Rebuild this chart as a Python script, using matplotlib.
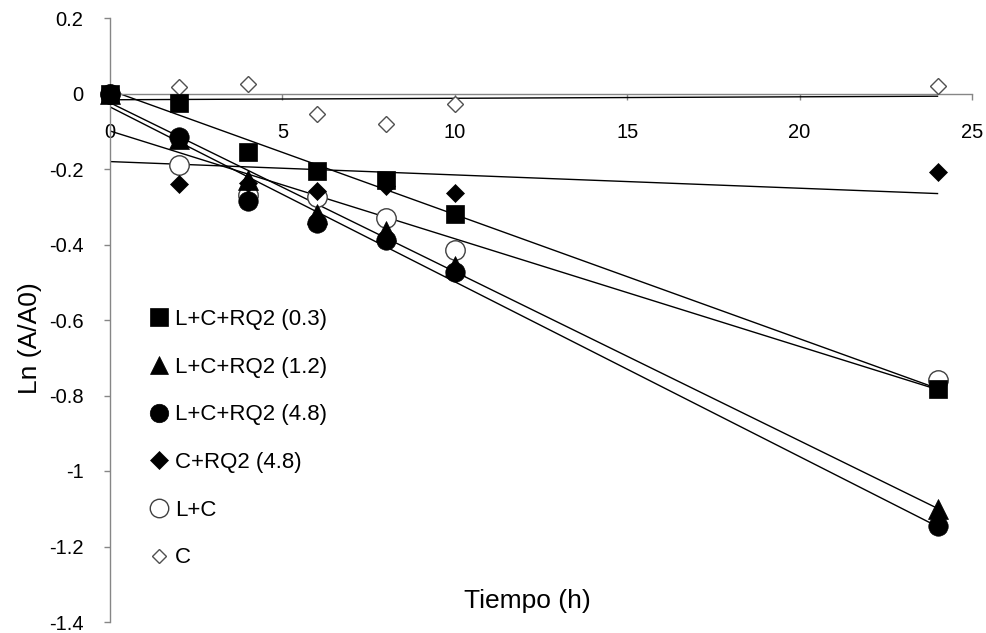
import numpy as np
import matplotlib.pyplot as plt

plt.rcParams['font.family'] = ['Liberation Sans', 'DejaVu Sans']

tiempo = [0, 2, 4, 6, 8, 10, 24]

rq2_03 = [0, -0.024, -0.156, -0.205, -0.23, -0.318, -0.784]
rq2_12 = [0, -0.12, -0.228, -0.318, -0.365, -0.458, -1.10]
rq2_48 = [0, -0.114, -0.286, -0.342, -0.387, -0.474, -1.147]
c_rq2_48 = [0, -0.241, -0.238, -0.258, -0.246, -0.263, -0.207]
l_c = [0, -0.19, -0.27, -0.274, -0.329, -0.415, -0.758]
c_sola = [0, 0.018, 0.026, -0.053, -0.08, -0.027, 0.021]

nombres = ['L+C+RQ2 (0.3)', 'L+C+RQ2 (1.2)', 'L+C+RQ2 (4.8)',
           'C+RQ2 (4.8)', 'L+C', 'C']
series = [rq2_03, rq2_12, rq2_48, c_rq2_48, l_c, c_sola]

# estilo de cada serie: marcador, tamaño, relleno, borde
estilos = [
    dict(marker='s', ms=13.5, mfc='black', mec='black', mew=0.5),
    dict(marker='^', ms=14, mfc='black', mec='black', mew=0.5),
    dict(marker='o', ms=14, mfc='black', mec='black', mew=0.5),
    dict(marker='D', ms=9.3, mfc='black', mec='black', mew=0.5),
    dict(marker='o', ms=14, mfc='white', mec='#404040', mew=1.0),
    dict(marker='D', ms=7.8, mfc='white', mec='#505050', mew=1.0),
]

gris = '#868686'

fig = plt.figure(figsize=(9.87, 6.33), dpi=100)
ax = fig.add_axes([110 / 987, 11 / 633, 862 / 987, 604 / 633])

x = np.array(tiempo, dtype=float)
xl = np.array([0, 24])
for ys in series:
    m, b = np.polyfit(x, np.array(ys), 1)
    ax.plot(xl, m * xl + b, color='black', lw=1.0, zorder=2)

# la primera serie queda encima, como en el original
for i, (ys, nombre, st) in enumerate(zip(series, nombres, estilos)):
    ax.plot(tiempo, ys, ls='none', label=nombre, zorder=10 - i,
            clip_on=False, **st)

ax.set_xlim(0, 25)
ax.set_ylim(-1.4, 0.2)

ax.spines['top'].set_visible(False)
ax.spines['right'].set_visible(False)
ax.spines['bottom'].set_position(('data', 0))
for s in ('left', 'bottom'):
    ax.spines[s].set_color(gris)
    ax.spines[s].set_linewidth(1.0)

yt = np.arange(-1.4, 0.21, 0.2)
ax.set_yticks(yt)
ax.set_yticklabels(['%g' % round(v, 1) if abs(v) > 1e-9 else '0' for v in yt])
ax.set_xticks([0, 5, 10, 15, 20, 25])
ax.set_xticklabels(['0', '5', '10', '15', '20', '25'])

ax.tick_params(axis='y', direction='out', length=4, width=1, color=gris,
               labelsize=14.5, pad=15)
ax.tick_params(axis='x', direction='out', length=4, width=1, color=gris,
               labelsize=14.5, pad=17)

fig.text(527 / 987, 1 - 601 / 633, 'Tiempo (h)', ha='center', va='center',
         fontsize=19)
fig.text(30 / 987, 1 - 338 / 633, 'Ln (A/A0)', ha='center', va='center',
         rotation=90, fontsize=19)

ax.legend(loc='upper left', bbox_to_anchor=(148 / 987, 1 - 309 / 633),
          bbox_transform=fig.transFigure, frameon=False, fontsize=16,
          handlelength=1.0, handletextpad=0.22, labelspacing=1.2,
          markerscale=0.95, borderpad=0, borderaxespad=0)

fig.savefig('out.png', dpi=100)
